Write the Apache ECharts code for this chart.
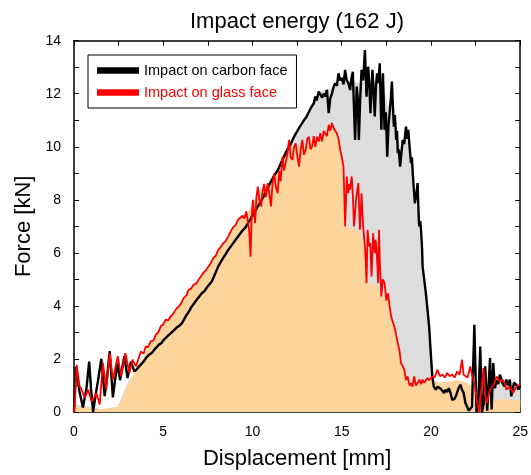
<!DOCTYPE html>
<html>
<head>
<meta charset="utf-8">
<script src="https://cdn.jsdelivr.net/npm/echarts@6/dist/echarts.min.js"></script>
<style>html,body{margin:0;padding:0;background:#fff}#c{width:531px;height:475px}</style>
</head>
<body>
<div id="c"></div>
<script>
// Displacement [mm] / Force [kN] — impact on carbon face
var carbonX = [0,0.1,0.3,0.5,0.7,0.85,0.95,1.07,1.2,1.35,1.53,1.72,1.85,2.0,2.18,2.3,2.45,2.58,2.82,3.0,3.19,3.38,3.5,3.65,3.9,4.05,4.2,4.35,4.5,4.76,4.9,5.0,5.15,5.3,5.55,5.78,5.9,6.05,6.3,6.45,6.6,6.9,7.16,7.3,7.45,7.72,7.9,8.08,8.35,8.5,8.64,8.9,9.19,9.45,9.6,9.75,10.0,10.3,10.6,10.85,11.2,11.4,11.59,11.95,12.1,12.33,12.6,12.88,13.0,13.15,13.3,13.44,13.52,13.6,13.71,13.8,13.9,13.99,14.08,14.17,14.27,14.36,14.45,14.55,14.64,14.73,14.82,14.91,15.0,15.1,15.19,15.28,15.37,15.47,15.55,15.62,15.68,15.75,15.84,15.9,15.96,16.04,16.11,16.2,16.3,16.39,16.48,16.55,16.61,16.72,16.78,16.85,16.92,16.98,17.05,17.13,17.22,17.31,17.4,17.47,17.55,17.62,17.68,17.75,17.81,17.87,17.92,17.98,18.05,18.1,18.14,18.2,18.27,18.35,18.42,18.5,18.6,18.67,18.73,18.8,18.88,18.93,18.98,19.04,19.1,19.18,19.25,19.3,19.34,19.4,19.44,19.5,19.53,19.62,19.71,19.8,19.9,19.99,20.08,20.16,20.27,20.36,20.45,20.54,20.64,20.73,20.82,20.9,21.0,21.1,21.19,21.33,21.45,21.55,21.65,21.74,21.83,21.93,22.02,22.11,22.2,22.3,22.43,22.55,22.65,22.76,22.86,22.95,23.04,23.15,23.31,23.4,23.49,23.58,23.68,23.77,23.86,24.0,24.13,24.22,24.32,24.42,24.5,24.65,24.79,24.9,25.0];
var carbonY = [0,1.7,0.8,0.17,0.9,1.9,0.9,0.0,0.6,1.2,2.0,0.6,1.3,2.3,0.55,1.2,1.85,1.2,2.1,1.28,1.9,1.53,1.6,1.72,1.9,2.05,2.16,2.22,2.35,2.54,2.6,2.7,2.8,2.9,3.05,3.2,3.25,3.35,3.65,3.8,3.98,4.25,4.48,4.55,4.7,4.92,5.2,5.49,5.8,5.95,6.11,6.35,6.62,6.85,6.95,7.12,7.4,7.75,8.1,8.45,8.9,9.1,9.38,9.9,10.05,10.38,10.7,11.0,11.1,11.3,11.5,11.64,11.9,11.75,12.08,12.14,11.85,12.0,11.9,12.15,11.27,11.83,12.0,12.27,12.4,12.3,12.77,12.5,12.6,12.35,12.9,12.5,12.4,12.14,12.6,12.83,11.6,10.26,12.27,11.8,10.26,11.9,12.9,12.5,13.65,11.89,13.02,12.3,11.27,12.9,12.2,11.14,12.3,12.77,12.4,13.15,10.64,12.77,10.64,11.3,9.63,10.8,11.27,11.8,12.46,11.5,10.76,11.2,10.26,10.6,9.76,9.9,9.25,9.8,10.26,10.1,10.76,10.3,10.64,10.0,9.38,9.6,9.0,8.4,7.87,8.2,8.63,7.6,7.0,7.2,6.87,6.2,5.5,5.0,4.5,3.9,3.2,2.2,1.3,0.96,0.84,0.95,0.9,0.88,0.8,0.72,0.84,0.75,0.9,0.7,0.46,0.5,0.7,0.9,1.03,0.84,0.72,0.34,0.21,0.05,0.0,0.2,3.29,0.0,0.2,2.47,0.0,0.3,1.72,0.05,2.03,0.1,1.85,0.9,1.2,1.05,1.41,1.1,0.96,1.22,1.0,1.22,0.59,1.1,1.03,0.85,1.0];
// Displacement [mm] / Force [kN] — impact on glass face
var glassX = [0,0.05,0.15,0.3,0.43,0.6,0.8,0.98,1.1,1.25,1.44,1.62,1.81,2.0,2.18,2.45,2.64,2.88,3.1,3.28,3.47,3.75,3.9,4.02,4.15,4.3,4.45,4.58,4.72,4.86,5.0,5.13,5.27,5.41,5.55,5.69,5.87,6.0,6.15,6.3,6.42,6.55,6.7,6.85,6.98,7.1,7.25,7.4,7.53,7.65,7.8,7.95,8.08,8.2,8.35,8.5,8.64,8.78,8.9,9.05,9.19,9.3,9.45,9.55,9.65,9.75,9.82,9.89,9.95,10.02,10.08,10.15,10.22,10.3,10.38,10.48,10.56,10.65,10.75,10.85,10.95,11.04,11.12,11.22,11.3,11.41,11.5,11.58,11.68,11.77,11.87,11.95,12.05,12.14,12.24,12.33,12.42,12.52,12.61,12.7,12.79,12.88,12.98,13.07,13.16,13.25,13.34,13.43,13.52,13.62,13.71,13.8,13.9,13.99,14.08,14.17,14.27,14.36,14.45,14.55,14.64,14.73,14.82,14.91,15.0,15.1,15.15,15.19,15.24,15.28,15.33,15.37,15.42,15.47,15.52,15.56,15.62,15.69,15.75,15.8,15.86,15.93,15.98,16.02,16.07,16.11,16.16,16.2,16.25,16.3,16.35,16.39,16.45,16.5,16.54,16.6,16.67,16.72,16.76,16.8,16.85,16.9,16.94,17.0,17.04,17.09,17.13,17.18,17.22,17.3,17.4,17.5,17.59,17.68,17.77,17.86,17.96,18.05,18.14,18.24,18.32,18.42,18.51,18.6,18.69,18.8,18.88,18.96,19.06,19.15,19.25,19.34,19.45,19.53,19.62,19.71,19.8,19.9,20.08,20.2,20.36,20.5,20.64,20.78,20.91,21.05,21.19,21.33,21.47,21.6,21.74,21.83,21.93,22.05,22.2,22.3,22.39,22.5,22.6,22.72,22.85,22.94,23.04,23.13,23.3,23.49,23.68,23.86,24.0,24.13,24.23,24.4,24.6,24.79,24.9,25.0];
var glassY = [0,0.34,1.78,1.0,0.84,0.53,0.84,0.4,0.5,0.72,0.28,1.85,0.84,2.22,1.22,2.1,1.34,2.22,1.47,1.97,1.72,2.28,2.2,2.47,2.45,2.66,2.7,2.91,3.0,3.23,3.3,3.48,3.45,3.6,3.7,3.85,3.98,4.1,4.3,4.4,4.61,4.65,4.8,4.85,4.99,5.1,5.25,5.35,5.49,5.6,5.8,5.9,6.11,6.2,6.35,6.45,6.62,6.8,6.95,7.05,7.25,7.2,7.4,7.3,7.56,7.12,6.8,5.86,7.3,8.0,7.6,7.12,8.1,8.5,8.0,7.75,8.3,8.6,8.1,8.63,8.2,7.75,8.6,9.0,8.5,8.25,9.1,8.7,9.63,9.1,9.13,9.7,10.26,9.6,9.51,10.0,10.13,9.6,9.25,9.9,10.26,9.7,9.88,10.3,10.38,9.9,10.01,10.4,10.0,10.38,10.2,10.51,10.2,10.6,10.64,10.4,10.83,10.6,10.9,10.7,10.76,10.5,10.3,9.9,9.63,9.25,8.0,7.0,8.0,8.88,8.4,8.25,8.6,8.38,8.7,8.88,8.2,7.0,7.5,8.0,8.3,8.63,7.6,6.87,7.6,8.25,7.5,7.0,6.6,6.24,5.6,4.86,6.87,6.5,6.24,6.37,5.11,6.0,6.74,6.3,5.99,6.5,6.24,5.5,4.86,6.87,5.74,5.0,4.36,5.0,4.86,4.2,4.48,4.0,3.6,3.4,3.2,2.9,2.6,2.3,1.85,1.72,1.59,1.2,1.34,1.0,1.09,0.96,1.34,1.0,1.09,1.22,1.05,1.22,1.1,1.15,1.28,1.2,1.34,1.3,1.59,1.35,1.41,1.3,1.47,1.35,1.41,1.3,1.53,1.4,1.97,1.4,1.47,1.3,1.72,1.4,1.22,0.8,0.3,0.0,0.96,1.66,0.6,0.34,0.84,1.0,1.34,1.15,1.22,1.1,0.84,0.96,0.72,0.96,1.0,1.03];
// filled regions under each curve (envelopes)
var carbonFillX = [0,1.0,1.5,2.45,3.0,3.6,4.2,5.3,6.6,7.7,8.64,9.75,10.85,11.6,12.33,12.9,13.44,13.8,14.5,15.0,15.5,16.0,16.5,17.0,17.3,17.6,17.8,18.1,18.3,18.6,18.9,19.1,19.34,19.53,19.71,19.9,20.08,20.2,20.5,21.0,21.5,22.0,22.5,23.0,23.5,24.0,24.5,25.0];
var carbonFillY = [0.3,0.2,0.1,0.2,1.1,1.7,2.15,2.9,3.98,4.92,6.11,7.12,8.45,9.38,10.38,11.0,11.64,12.1,12.2,12.5,12.5,12.4,12.5,12.4,12.4,11.5,12.0,10.5,10.0,10.6,9.4,8.2,7.0,5.5,4.5,3.2,1.7,1.0,0.9,0.85,0.8,0.6,0.8,1.0,1.1,1.1,1.0,0.9];
var glassFillX = [0,1.0,1.5,2.45,3.0,3.5,3.77,4.3,4.86,5.41,5.87,6.42,6.98,7.53,8.08,8.64,9.19,9.65,10.0,10.3,10.85,11.2,11.68,12.05,12.5,13.0,13.5,14.0,14.45,14.82,15.0,15.19,15.75,16.02,16.3,16.39,17.0,17.22,17.6,17.8,18.0,18.3,18.5,18.7,19.0,19.5,20.0,20.5,21.0,21.5,22.0,22.4,22.7,23.0,23.5,24.0,24.5,25.0];
var glassFillY = [0.2,0.15,0.1,0.2,1.0,1.6,1.95,2.6,3.2,3.6,3.98,4.61,4.99,5.49,6.11,6.62,7.25,7.5,7.8,8.3,8.6,8.9,9.5,10.0,10.0,10.1,10.3,10.5,10.8,10.4,9.6,7.0,6.9,6.8,6.2,4.86,4.8,4.36,4.3,3.6,3.1,2.0,1.5,1.2,1.0,1.1,1.2,1.1,1.15,1.2,1.1,0.9,0.5,0.5,0.45,0.5,0.45,0.45];
var xTicks = [0,5,10,15,20,25];
var yTicks = [0,2,4,6,8,10,12,14];
var seriesNames = ['Impact on carbon face','Impact on glass face'];
var titleText = 'Impact energy (162 J)';
var noteText = 'dissipated energy';

function zip(a,b){var o=[];for(var i=0;i<a.length;i++)o.push([a[i],b[i]]);return o;}

var FONT = 'Liberation Sans, Arial, sans-serif';
var chart = echarts.init(document.getElementById('c'), null, {renderer:'canvas'});
var axisCommon = {
  axisLine:{show:true,onZero:false,lineStyle:{color:'#000',width:1.5}},
  axisTick:{show:true,inside:true,length:5,lineStyle:{color:'#000',width:1}},
  splitLine:{show:false}
};
function xAx(pos, labels){
  return Object.assign({type:'value',min:0,max:25,interval:2.5,position:pos,
    axisLabel:{show:labels,fontFamily:FONT,fontSize:14,color:'#000',margin:13,
      formatter:function(v){return xTicks.indexOf(v)>=0?String(v):'';}},
    name: labels?'Displacement [mm]':'', nameLocation:'middle', nameGap:36,
    nameTextStyle:{fontFamily:FONT,fontSize:22,color:'#000'}}, axisCommon);
}
function yAx(pos, labels){
  return Object.assign({type:'value',min:0,max:14,interval:1,position:pos,
    axisLabel:{show:labels,fontFamily:FONT,fontSize:14,color:'#000',margin:13,
      formatter:function(v){return yTicks.indexOf(v)>=0?String(v):'';}},
    name: labels?'Force [kN]':'', nameLocation:'middle', nameGap:37,
    nameTextStyle:{fontFamily:FONT,fontSize:22,color:'#000'}}, axisCommon);
}
chart.setOption({
  animation:false,
  backgroundColor:'#fff',
  title:{text:titleText,left:292,top:6,textAlign:'center',
    textStyle:{fontFamily:FONT,fontSize:22,fontWeight:'normal',color:'#000'}},
  grid:{left:74,right:5.5,top:40.7,bottom:62.7,containLabel:false},
  xAxis:[xAx('bottom',true), xAx('top',false)],
  yAxis:[yAx('left',true), yAx('right',false)],
  legend:{left:88,top:55,orient:'vertical',padding:[8,9,8,9],itemGap:7,itemWidth:42,itemHeight:14,
    borderColor:'#000',borderWidth:1,backgroundColor:'#fff',
    textStyle:{fontFamily:FONT,fontSize:14.5},
    data:[{name:seriesNames[0],icon:'path://M0,0L1,0L1,0.16L0,0.16Z',textStyle:{color:'#000'}},
          {name:seriesNames[1],icon:'path://M0,0L1,0L1,0.16L0,0.16Z',textStyle:{color:'#ff0000'}}],
    itemStyle:{borderWidth:0}},
  series:[
    {name:'carbonFill',type:'line',data:zip(carbonFillX,carbonFillY),showSymbol:false,
      lineStyle:{width:0},areaStyle:{color:'#dcdddc',opacity:1},silent:true,z:1},
    {name:'glassFill',type:'line',data:zip(glassFillX,glassFillY),showSymbol:false,
      lineStyle:{width:0},areaStyle:{color:'#fdd59c',opacity:1},silent:true,z:2},
    {name:seriesNames[0],type:'line',data:zip(carbonX,carbonY),showSymbol:false,
      itemStyle:{color:'#000'},lineStyle:{color:'#000',width:2.4},z:3},
    {name:seriesNames[1],type:'line',data:zip(glassX,glassY),showSymbol:false,
      itemStyle:{color:'#ff0000'},lineStyle:{color:'#ff0000',width:1.8},z:4}
  ],
  graphic:[{type:'group',left:262,top:297,z:100,children:[
    {type:'rect',shape:{x:0,y:0,width:161,height:30},style:{fill:'#fff',stroke:'#000',lineWidth:1}},
    {type:'text',x:80.5,y:15,style:{text:noteText,fontFamily:FONT,fontSize:17,fill:'#000',align:'center',verticalAlign:'middle'}}
  ]}]
});
</script>
</body>
</html>
